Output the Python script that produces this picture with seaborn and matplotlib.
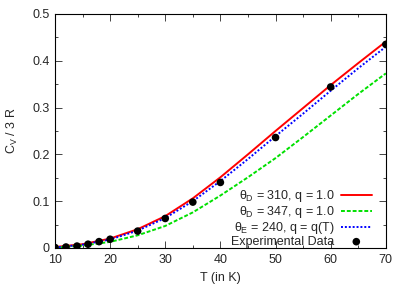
import matplotlib
matplotlib.use('Agg')
import matplotlib.pyplot as plt
from matplotlib.ticker import MultipleLocator, FormatStrFormatter
import pandas as pd
import seaborn as sns

# model curves
temp_model = [10, 15, 20, 25, 30, 35, 40, 45, 50, 55, 60, 65, 70]
debye_310 = [0.002, 0.008, 0.020, 0.040, 0.068, 0.106, 0.151, 0.200, 0.250, 0.299, 0.348, 0.395, 0.441]
debye_347 = [0.001, 0.005, 0.013, 0.027, 0.047, 0.076, 0.112, 0.151, 0.192, 0.237, 0.283, 0.329, 0.373]
einstein_240 = [0.001, 0.007, 0.018, 0.037, 0.064, 0.100, 0.143, 0.190, 0.239, 0.287, 0.336, 0.384, 0.430]

# experimental points
temp_exp = [10, 12, 14, 16, 18, 20, 25, 30, 35, 40, 50, 60, 70]
cv_exp = [0.001, 0.002, 0.004, 0.008, 0.0135, 0.0186, 0.036, 0.063, 0.098, 0.140, 0.236, 0.344, 0.435]

labels = [r'$\theta_D$ = 310, q = 1.0', r'$\theta_D$ = 347, q = 1.0',
          r'$\theta_E$ = 240, q = q(T)', 'Experimental Data']

sns.set_style('ticks')
plt.rcParams['font.family'] = ['Liberation Sans', 'DejaVu Sans']
plt.rcParams['mathtext.fontset'] = 'custom'
plt.rcParams['mathtext.rm'] = 'Liberation Sans'
plt.rcParams['mathtext.it'] = 'Liberation Sans'

df = pd.DataFrame({'T': temp_model, 'a': debye_310, 'b': debye_347, 'c': einstein_240})
exp_df = pd.DataFrame({'T': temp_exp, 'cv': cv_exp})

fig, ax = plt.subplots(figsize=(4.07, 2.85), dpi=100)
fig.subplots_adjust(left=0.135, right=0.948, top=0.951, bottom=0.13)

sns.lineplot(data=df, x='T', y='a', ax=ax, color='#ff0000', lw=1.4, label=labels[0])
sns.lineplot(data=df, x='T', y='b', ax=ax, color='#00e000', lw=1.4, label=labels[1],
             linestyle=(0, (2, 1)))
sns.lineplot(data=df, x='T', y='c', ax=ax, color='#0000ff', lw=1.4, label=labels[2],
             linestyle=(0, (1, 1)))
sns.scatterplot(data=exp_df, x='T', y='cv', ax=ax, color='black', s=30,
                edgecolor='none', zorder=5, label=labels[3])

ax.set_xlim(10, 70)
ax.set_ylim(0, 0.5)
ax.xaxis.set_major_locator(MultipleLocator(10))
ax.xaxis.set_minor_locator(MultipleLocator(5))
ax.yaxis.set_major_locator(MultipleLocator(0.1))
ax.yaxis.set_minor_locator(MultipleLocator(0.05))
ax.yaxis.set_major_formatter(FormatStrFormatter('%g'))
ax.tick_params(which='both', direction='in', top=True, right=True, labelsize=9, width=0.6)
ax.tick_params(which='major', length=5, pad=4)
ax.tick_params(which='minor', length=2.5)
for s in ax.spines.values():
    s.set_visible(True)
    s.set_linewidth(0.8)
    s.set_color('black')

ax.set_xlabel('T (in K)', fontsize=9, labelpad=5)
ax.set_ylabel(r'C$_V$ / 3 R', fontsize=9, labelpad=9)

ax.legend(loc='lower right', bbox_to_anchor=(0.958, 0.0), frameon=False,
          fontsize=9, markerfirst=False, handlelength=2.5, labelspacing=0.0,
          handletextpad=0.5, borderaxespad=0, borderpad=0)

plt.savefig('out.png', dpi=100)
plt.close()
